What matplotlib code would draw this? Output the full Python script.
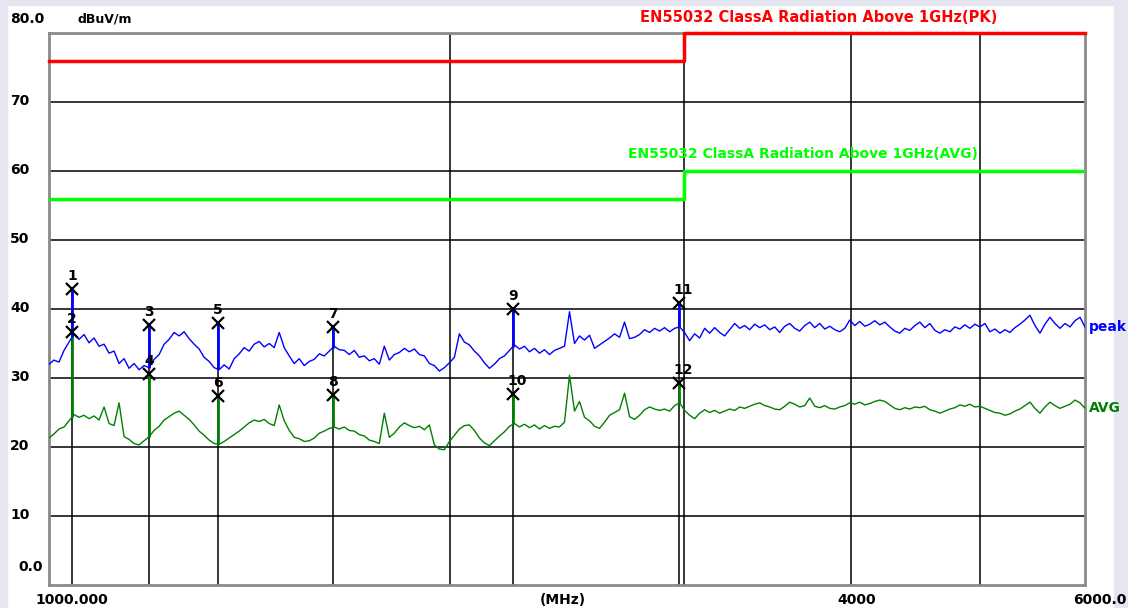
import numpy as np
import matplotlib
matplotlib.use("Agg")
import matplotlib.pyplot as plt
from matplotlib.patches import Rectangle

# sweep 1000 - 6000 MHz (log spaced), readings in dBuV/m
f_start, f_stop = 1000.0, 6000.0

peak = [
    32.0, 32.6, 32.3, 34.0, 35.2, 36.4, 35.6, 36.3, 35.1, 35.8,
    34.6, 34.9, 33.6, 33.9, 32.1, 32.8, 31.4, 32.1, 31.2, 31.8,
    31.5, 32.7, 33.4, 34.9, 35.6, 36.6, 36.1, 36.7, 35.7, 34.9,
    34.2, 33.0, 32.4, 31.5, 31.2, 31.9, 31.3, 32.8, 33.5, 34.4,
    33.9, 34.9, 35.3, 34.5, 35.0, 34.4, 36.6, 34.4, 33.2, 32.1,
    32.8, 31.8, 32.4, 32.7, 33.5, 33.2, 33.9, 34.6, 34.1, 34.0,
    33.4, 34.0, 33.0, 33.2, 32.5, 32.8, 32.0, 34.6, 32.6, 33.4,
    33.7, 34.3, 33.8, 34.2, 33.4, 33.2, 32.1, 31.8, 31.0, 31.5,
    32.2, 33.0, 36.4, 35.2, 34.8, 33.9, 33.2, 32.2, 31.4, 32.0,
    32.8, 33.2, 34.0, 34.8, 34.2, 34.6, 33.8, 34.3, 33.6, 34.1,
    33.4, 34.0, 34.3, 34.6, 39.6, 35.0, 36.1, 35.5, 36.2, 34.3,
    34.8, 35.3, 35.8, 36.4, 35.9, 38.1, 35.7, 35.9, 36.3, 37.0,
    36.6, 37.2, 36.8, 37.3, 36.7, 37.2, 37.4, 36.6, 35.4, 36.4,
    35.8, 37.2, 36.5, 37.3, 36.6, 36.1, 37.0, 37.9, 37.2, 37.6,
    37.0, 37.8, 37.3, 37.7, 37.0, 37.4, 36.6, 37.5, 37.9, 37.2,
    36.8, 37.6, 38.1, 37.3, 37.9, 37.1, 37.5, 37.0, 36.7, 37.2,
    38.4, 37.6, 38.2, 37.5, 37.8, 38.3, 37.7, 38.1, 37.4, 36.8,
    36.5, 37.2, 36.9, 37.6, 38.1, 37.3, 37.9, 36.9, 36.5, 37.0,
    36.7, 37.4, 37.1, 37.7, 37.2, 37.8, 37.4, 37.9, 36.7, 37.1,
    36.5, 37.0, 36.6, 37.3, 37.8, 38.4, 39.1, 37.6, 36.5, 37.8,
    38.8, 37.9, 37.2, 37.9, 37.4, 38.3, 38.8, 37.4,
]

avg = [
    21.3, 21.9, 22.6, 22.9, 23.8, 24.7, 24.3, 24.6, 24.1, 24.5,
    23.9, 25.8, 23.4, 23.1, 26.4, 21.5, 21.1, 20.5, 20.3, 20.9,
    21.5, 22.4, 23.0, 23.9, 24.4, 24.9, 25.2, 24.6, 24.0, 23.2,
    22.3, 21.7, 21.0, 20.5, 20.4, 20.8, 21.3, 21.8, 22.3, 22.9,
    23.5, 23.9, 23.7, 24.0, 23.4, 23.1, 26.1, 23.8, 22.4, 21.4,
    21.2, 20.8, 20.9, 21.3, 22.0, 22.3, 22.7, 22.9, 22.6, 22.9,
    22.4, 22.3, 21.8, 21.6, 21.0, 20.8, 20.5, 24.9, 21.4, 22.0,
    22.9, 23.5, 23.1, 22.8, 23.0, 22.5, 23.2, 20.3, 19.7, 19.6,
    20.8, 21.7, 22.6, 23.1, 23.2, 22.4, 21.3, 20.6, 20.2, 20.9,
    21.6, 22.2, 23.0, 23.4, 22.9, 23.3, 22.8, 23.2, 22.6, 23.1,
    22.7, 23.0, 22.9, 23.6, 30.4, 25.2, 26.6, 24.3, 23.8, 23.0,
    22.7, 23.6, 24.6, 25.0, 25.4, 27.8, 24.4, 24.0, 24.6, 25.4,
    25.8, 25.5, 25.3, 25.5, 25.2, 26.0, 26.4, 25.3, 24.6, 24.1,
    24.9, 25.4, 25.0, 25.3, 24.9, 25.2, 25.5, 25.3, 25.8, 25.6,
    25.9, 26.2, 26.4, 26.0, 25.8, 25.5, 25.4, 25.9, 26.5, 26.2,
    25.8, 26.0, 27.1, 25.9, 25.7, 26.0, 25.6, 25.5, 25.8, 26.0,
    26.4, 26.2, 26.5, 26.1, 26.3, 26.6, 26.8, 26.6, 26.1, 25.6,
    25.4, 25.7, 25.5, 25.8, 25.7, 25.9, 25.4, 25.2, 24.9, 25.2,
    25.5, 25.7, 26.1, 25.9, 26.2, 25.8, 25.9, 25.6, 25.3, 25.0,
    24.9, 24.6, 24.8, 25.2, 25.5, 26.0, 26.5, 25.6, 24.9, 25.8,
    26.5, 26.0, 25.6, 25.9, 26.2, 26.8, 26.4, 25.6,
]

# markers
mk_freq = [1040.6, 1189.0, 1339.0, 1634.0, 2231.0, 2973.0]
mk_peak = [42.9, 37.7, 38.0, 37.4, 40.0, 40.9]
mk_avg = [36.7, 30.6, 27.4, 27.5, 27.7, 29.3]
mk_peak_no = ["1", "3", "5", "7", "9", "11"]
mk_avg_no = ["2", "4", "6", "8", "10", "12"]

# limits
lim_freq = [1000, 3000, 3000, 6000]
lim_pk = [76, 76, 80, 80]
lim_avg = [56, 56, 60, 60]
lim_pk_name = "EN55032 ClassA Radiation Above 1GHz(PK)"
lim_avg_name = "EN55032 ClassA Radiation Above 1GHz(AVG)"

yticks = [0, 10, 20, 30, 40, 50, 60, 70, 80]
ylabels = ["0.0", "10", "20", "30", "40", "50", "60", "70", "80.0"]

freq = np.geomspace(f_start, f_stop, len(peak))
peak = np.array(peak)
avg = np.array(avg)

plt.rcParams['font.family'] = ['DejaVu Sans']
plt.rcParams['font.weight'] = 'bold'

fig = plt.figure(figsize=(11.28, 6.08), dpi=100, facecolor='white')
# light frame of the screen shot
band = '#e6e6f1'
fig.add_artist(Rectangle((0, 0), 7 / 1128, 1, transform=fig.transFigure, color=band, zorder=0))
fig.add_artist(Rectangle((0, 1 - 5 / 608), 1, 5 / 608, transform=fig.transFigure, color=band, zorder=0))
fig.add_artist(Rectangle((1114 / 1128, 0), 14 / 1128, 1, transform=fig.transFigure, color=band, zorder=0))

ax = fig.add_axes([49 / 1128, 23 / 608, 1036 / 1128, 552 / 608])
ax.set_xscale('log')
ax.set_xlim(f_start, f_stop)
ax.set_ylim(0, 80)

for s in ax.spines.values():
    s.set_color('#8a8a8a')
    s.set_linewidth(2)

# grid
for y in yticks[1:-1]:
    ax.axhline(y, color='black', lw=1.1, zorder=1)
for fx in [2000, 3000, 4000, 5000]:
    ax.axvline(fx, color='black', lw=1.1, zorder=1)

ax.set_xticks([])
ax.set_yticks([])
ax.minorticks_off()

# limits
ax.plot(lim_freq, lim_pk, color='#ff0000', lw=2.5, zorder=4, clip_on=False)
ax.plot(lim_freq, lim_avg, color='#00ff00', lw=2.5, zorder=4)
ax.annotate(lim_pk_name, xy=(3000, 80), xytext=(-44, 8), textcoords='offset pixels',
            color='#ff0000', fontsize=10.5, ha='left', va='bottom')
ax.annotate(lim_avg_name, xy=(3000, 60), xytext=(-56, 10), textcoords='offset pixels',
            color='#00ff00', fontsize=10, ha='left', va='bottom')

# marker stems
ax.vlines(mk_freq, 0, np.maximum(mk_peak, mk_avg), color='black', lw=1.1, zorder=2)

# traces
lf = np.log10(freq)
ax.plot(freq, avg, color='#008000', lw=1, zorder=3)
ax.vlines(mk_freq, np.interp(np.log10(mk_freq), lf, avg), mk_avg, color='#008000', lw=2, zorder=3)
ax.plot(freq, peak, color='#0000ff', lw=1, zorder=3)
ax.vlines(mk_freq, np.interp(np.log10(mk_freq), lf, peak), mk_peak, color='#0000ff', lw=2, zorder=3)

ax.plot(mk_freq, mk_peak, 'x', color='black', ms=9, mew=1.6, zorder=5)
ax.plot(mk_freq, mk_avg, 'x', color='black', ms=9, mew=1.6, zorder=5)
for f, v, n in list(zip(mk_freq, mk_peak, mk_peak_no)) + list(zip(mk_freq, mk_avg, mk_avg_no)):
    if len(n) > 1:
        ax.annotate(n, xy=(f, v), xytext=(-6, 6), textcoords='offset pixels',
                    ha='left', va='bottom', fontsize=10)
    else:
        ax.annotate(n, xy=(f, v), xytext=(0, 6), textcoords='offset pixels',
                    ha='center', va='bottom', fontsize=10)

# trace names
ax.annotate("peak", xy=(1, peak[-1]), xycoords=('axes fraction', 'data'), xytext=(4, 0),
            textcoords='offset pixels', color='#0000ff', fontsize=10, va='center')
ax.annotate("AVG", xy=(1, avg[-1]), xycoords=('axes fraction', 'data'), xytext=(4, 0),
            textcoords='offset pixels', color='#008000', fontsize=10, va='center')

# axis texts
for y, lab in zip(yticks, ylabels):
    if y == 80:
        ax.annotate(lab, xy=(0, y), xycoords=('axes fraction', 'data'), xytext=(-39, 14),
                    textcoords='offset pixels', ha='left', va='center', fontsize=10)
    elif y == 0:
        ax.annotate(lab, xy=(0, y), xycoords=('axes fraction', 'data'), xytext=(-6, 18),
                    textcoords='offset pixels', ha='right', va='center', fontsize=10)
    else:
        ax.annotate(lab, xy=(0, y), xycoords=('axes fraction', 'data'), xytext=(-39, 1),
                    textcoords='offset pixels', ha='left', va='center', fontsize=10)
ax.annotate("dBuV/m", xy=(0, 80), xycoords=('axes fraction', 'data'), xytext=(29, 14),
            textcoords='offset pixels', ha='left', va='center', fontsize=9)

ax.annotate("1000.000", xy=(1000, 0), xycoords=('data', 'axes fraction'), xytext=(-14, -8),
            textcoords='offset pixels', ha='left', va='top', fontsize=10)
ax.annotate("(MHz)", xy=(0.5, 0), xycoords='axes fraction', xytext=(-4, -8),
            textcoords='offset pixels', ha='center', va='top', fontsize=10)
ax.annotate("4000", xy=(4000, 0), xycoords=('data', 'axes fraction'), xytext=(6, -8),
            textcoords='offset pixels', ha='center', va='top', fontsize=10)
ax.annotate("6000.0", xy=(6000, 0), xycoords=('data', 'axes fraction'), xytext=(41, -8),
            textcoords='offset pixels', ha='right', va='top', fontsize=10)

fig.savefig("out.png", dpi=100, facecolor=fig.get_facecolor())
